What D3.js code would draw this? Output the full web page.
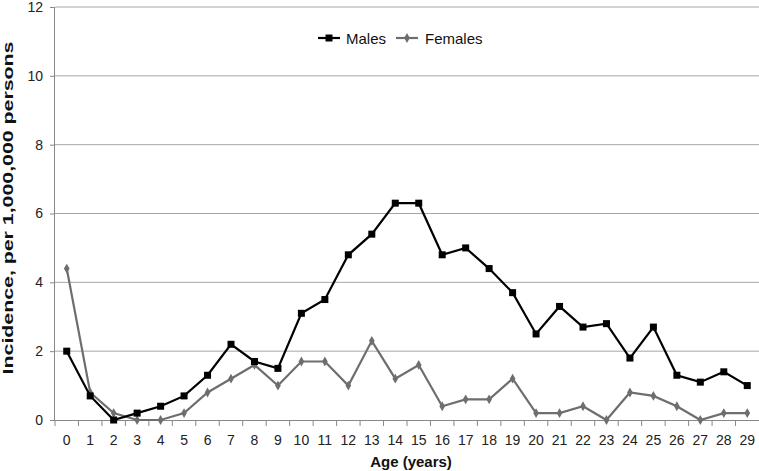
<!DOCTYPE html>
<html><head><meta charset="utf-8">
<script src="https://cdn.jsdelivr.net/npm/d3@7"></script>
<style>body{margin:0;background:#fff}svg{display:block;font-family:"Liberation Sans",Arial,sans-serif}</style>
</head><body>
<svg id="c" width="759" height="471"></svg>
<script>
const ages = d3.range(0,30).map(String);
const males = [2.0,0.7,0.0,0.2,0.4,0.7,1.3,2.2,1.7,1.5,3.1,3.5,4.8,5.4,6.3,6.3,4.8,5.0,4.4,3.7,2.5,3.3,2.7,2.8,1.8,2.7,1.3,1.1,1.4,1.0];
const females = [4.4,0.8,0.2,0.0,0.0,0.2,0.8,1.2,1.6,1.0,1.7,1.7,1.0,2.3,1.2,1.6,0.4,0.6,0.6,1.2,0.2,0.2,0.4,0.0,0.8,0.7,0.4,0.0,0.2,0.2];
const yTicks = [0,2,4,6,8,10,12];

const svg = d3.select("#c");
const L=55, R=759, T=7, B=420;
const x = d3.scaleBand().domain(ages).range([L,R]);
const y = d3.scaleLinear().domain([0,12]).range([B,T]);

// gridlines
svg.append("g").selectAll("line").data(yTicks.filter(d=>d>0)).join("line")
  .attr("x1",L).attr("x2",R).attr("y1",d=>y(d)).attr("y2",d=>y(d))
  .attr("stroke","#a6a6a6").attr("stroke-width",1);

// y axis
const ya = svg.append("g").attr("transform",`translate(${L},0)`).call(d3.axisLeft(y).tickValues(yTicks).tickSize(5).tickPadding(7));
ya.select(".domain").attr("stroke","#888").attr("d",`M-0.5,${T}V${B}`);
ya.selectAll(".tick line").attr("stroke","#888");
ya.selectAll("text").attr("font-size",14).attr("fill","#222").attr("font-family","Liberation Sans, Arial, sans-serif");

// x axis
const xa = svg.append("g").attr("transform",`translate(0,${B})`).call(d3.axisBottom(x).tickSize(0).tickPadding(15));
xa.select(".domain").attr("stroke","#888").attr("d",`M${L},0.5H${R}`);
xa.selectAll("text").attr("font-size",14).attr("fill","#222").attr("font-family","Liberation Sans, Arial, sans-serif");
// tick marks between categories
svg.append("g").selectAll("line").data(ages).join("line")
  .attr("x1",d=>x(d)).attr("x2",d=>x(d)).attr("y1",B).attr("y2",B+6)
  .attr("stroke","#888");

const cx = d=>x(d)+x.bandwidth()/2;
const line = d3.line().x((d,i)=>cx(ages[i])).y(d=>y(d));

svg.append("path").datum(females).attr("d",line).attr("fill","none").attr("stroke","#6e6e6e").attr("stroke-width",2.2);
svg.append("g").selectAll("path").data(females).join("path")
  .attr("d",d3.symbol(d3.symbolDiamond,28)).attr("fill","#6e6e6e")
  .attr("transform",(d,i)=>`translate(${cx(ages[i])},${y(d)})`);

svg.append("path").datum(males).attr("d",line).attr("fill","none").attr("stroke","#000").attr("stroke-width",2.2);
svg.append("g").selectAll("rect").data(males).join("rect")
  .attr("x",(d,i)=>cx(ages[i])-3.5).attr("y",d=>y(d)-3.5).attr("width",7).attr("height",7).attr("fill","#000");

// legend
const lg = svg.append("g").attr("font-size",15).attr("fill","#111");
lg.append("line").attr("x1",318).attr("x2",340).attr("y1",38).attr("y2",38).attr("stroke","#000").attr("stroke-width",2.2);
lg.append("rect").attr("x",325.5).attr("y",34.5).attr("width",7).attr("height",7).attr("fill","#000");
lg.append("text").attr("x",346).attr("y",43.5).text("Males");
lg.append("line").attr("x1",396).attr("x2",418).attr("y1",38).attr("y2",38).attr("stroke","#6e6e6e").attr("stroke-width",2.2);
lg.append("path").attr("d",d3.symbol(d3.symbolDiamond,28)).attr("fill","#6e6e6e").attr("transform","translate(407,38)");
lg.append("text").attr("x",425).attr("y",43.5).text("Females");

// titles
svg.append("text").attr("x",411).attr("y",467).attr("text-anchor","middle").attr("font-size",15).attr("font-weight","bold").attr("fill","#111").text("Age (years)");
const yt = svg.append("text").attr("text-anchor","middle")
  .attr("font-size",15).attr("font-weight","bold").attr("fill","#111")
  .text("Incidence, per 1,000,000 persons");
const len = yt.node().getComputedTextLength();
yt.attr("transform",`translate(13,208) rotate(-90) scale(${333/len},1)`);
</script>
</body></html>
